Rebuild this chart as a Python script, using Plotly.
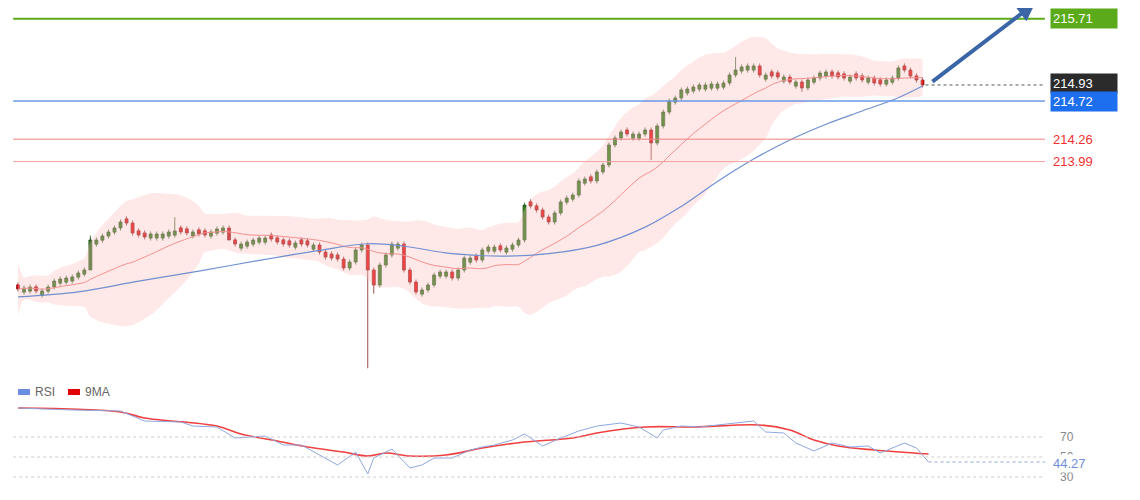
import numpy as np
import pandas as pd
import plotly.graph_objects as go

# closes read off the chart as screen rows, converted with the chart's own scale
# (214.72 at row 101, about 83 rows per point)
close_rows = [289, 288, 287, 291, 291, 287, 281, 279, 278, 277, 273, 270, 240, 240, 236, 232,
              228, 222, 223, 233, 235, 237, 234, 234, 234, 232, 231, 232, 233, 232, 234, 235,
              232, 229, 228, 240, 244, 244, 242, 240, 238, 238, 239, 242, 244, 245, 243, 244,
              245, 245, 252, 257, 258, 259, 268, 262, 250, 245, 270, 285, 265, 255, 244, 244,
              270, 282, 292, 290, 285, 275, 272, 272, 278, 270, 258, 258, 260, 250, 247, 247,
              250, 248, 245, 240, 205, 206, 210, 217, 222, 213, 202, 198, 195, 181, 179, 181,
              172, 165, 145, 138, 132, 134, 134, 134, 130, 143, 126, 112, 101, 98, 90, 89,
              87, 85, 85, 84, 84, 83, 75, 70, 67, 66, 66, 75, 75, 76, 77, 77,
              82, 82, 88, 80, 78, 73, 72, 76, 77, 78, 77, 78, 80, 78, 83, 84,
              80, 78, 68, 70, 76, 80, 85]
close = [round(214.72 + (101 - r) / 83, 3) for r in close_rows]
# long wicks seen on the chart: index -> (high, low)
wicks = {12: (None, 213.10), 26: (213.32, None), 35: (None, 213.17), 58: (None, 211.50),
         59: (None, 212.40), 105: (None, 214.01), 130: (None, 214.83), 119: (215.25, None)}

# slow moving average (blue)
slow_x = [0, 10, 20, 30, 40, 50, 58, 64, 72, 80, 88, 96, 104, 110, 116, 122, 128, 134, 140, 146, 150]
slow_v = [212.36, 212.42, 212.55, 212.67, 212.80, 212.92, 213.0, 212.97, 212.88, 212.85, 212.88,
          212.98, 213.20, 213.45, 213.75, 214.02, 214.25, 214.44, 214.60, 214.76, 214.90]

rsi_x = [0, 9, 17, 19, 21, 27, 29, 33, 36, 41, 44, 47, 50, 53, 56, 58, 59, 62, 65, 67,
         69, 72, 75, 77, 79, 82, 84, 87, 90, 93, 96, 100, 103, 106, 107, 110, 113, 116, 118, 122,
         124, 127, 129, 132, 135, 138, 141, 143, 147, 149, 151]
rsi_v = [99, 97, 96, 91, 86, 85, 81, 80, 69, 71, 62, 62, 52, 42, 55, 33, 49, 58, 39, 42,
         49, 49, 57, 60, 62, 67, 73, 61, 69, 76, 81, 84, 80, 69, 77, 81, 80, 82, 83, 86,
         75, 74, 64, 56, 64, 60, 61, 54, 64, 59, 45]
ma_x = [0, 17, 21, 33, 37, 43, 48, 54, 58, 61, 65, 71, 77, 84, 92, 96, 104, 112,
        123, 128, 132, 136, 142, 151]
ma_v = [99, 95, 89, 81, 73, 66, 60, 55, 51, 54, 51, 52, 59, 65, 69, 74, 80, 80,
        82, 77, 67, 61, 57, 53]

n = len(close)
idx = np.arange(n)
c = np.array(close)
o = np.array([close[0] + 0.03] + close[:-1])
# give flat candles a visible body
small = np.abs(c - o) < 0.05
o[small] = c[small] + np.where(c[small] >= o[small], -0.05, 0.05)
high = np.maximum(o, c) + 0.03
low = np.minimum(o, c) - 0.03
for k, (h, l) in wicks.items():
    if h is not None: high[k] = h
    if l is not None: low[k] = l

s = pd.Series(close)
ma20 = s.rolling(20, min_periods=1).mean()
sd = s.rolling(20, min_periods=2).std().fillna(0.1)
upper = ma20 + 2 * sd + 0.12
lower = ma20 - 2 * sd - 0.12

fig = go.Figure()
fig.add_trace(go.Scatter(x=idx, y=upper, mode="lines", line=dict(width=0, shape="spline"),
                         hoverinfo="skip"))
fig.add_trace(go.Scatter(x=idx, y=lower, mode="lines", line=dict(width=0, shape="spline"),
                         fill="tonexty", fillcolor="rgba(255,190,190,0.35)", hoverinfo="skip"))
fig.add_trace(go.Scatter(x=idx, y=ma20, mode="lines", line=dict(color="#f49090", width=1, shape="spline")))
fig.add_trace(go.Scatter(x=slow_x, y=slow_v, mode="lines", line=dict(color="#7090d0", width=1.2, shape="spline")))
fig.add_trace(go.Candlestick(x=idx, open=o, high=high, low=low, close=c,
                             increasing=dict(fillcolor="#23800f", line=dict(color="#2f5a25", width=0.8)),
                             decreasing=dict(fillcolor="#ee0000", line=dict(color="#8a2020", width=0.8)),
                             whiskerwidth=0))

# RSI panel
fig.add_trace(go.Scatter(x=ma_x, y=ma_v, yaxis="y2", mode="lines",
                         line=dict(color="#f04040", width=1.6, shape="spline")))
fig.add_trace(go.Scatter(x=rsi_x, y=rsi_v, yaxis="y2", mode="lines",
                         line=dict(color="#8fa8e0", width=1)))

# horizontal levels
X_END = 170.3
levels = [(215.71, "#5aaa1a", 2), (214.72, "#6b98e8", 1.5),
          (214.26, "#f08080", 1), (213.99, "#f4a0a0", 1)]
for val, col, w in levels:
    fig.add_shape(type="line", xref="x", yref="y", x0=-0.8, x1=X_END, y0=val, y1=val,
                  line=dict(color=col, width=w))
fig.add_shape(type="line", xref="x", yref="y", x0=n - 0.5, x1=X_END, y0=close[-1], y1=close[-1],
              line=dict(color="#555555", width=1, dash="dot"))
for lv in [70, 50, 30]:
    fig.add_shape(type="line", xref="x", yref="y2", x0=-0.8, x1=X_END, y0=lv, y1=lv,
                  line=dict(color="#cccccc", width=1, dash="dot"))
fig.add_shape(type="line", xref="x", yref="y2", x0=rsi_x[-1], x1=X_END, y0=45, y1=45,
              line=dict(color="#8fa8e0", width=1, dash="dot"))

def tag(val, text, bg, fg, yref="y"):
    fig.add_annotation(x=171.2, y=val, xref="x", yref=yref, text=text, showarrow=False,
                       xanchor="left", bgcolor=bg, font=dict(color=fg, size=13, family="Arial"),
                       width=62, borderpad=2, align="left")

tag(216.01, "", "#5aaa1a", "white")
tag(215.71, "215.71", "#5aaa1a", "white")
tag(214.93, "214.93", "#2b2b2b", "white")
tag(214.72, "214.72", "#1e6ef0", "white")
tag(214.26, "214.26", None, "#f03030")
tag(213.99, "213.99", None, "#f03030")
for lv, t in [(70, "70"), (50, "50"), (30, "30")]:
    fig.add_annotation(x=172.5, y=lv, xref="x", yref="y2", text=t, showarrow=False,
                       xanchor="left", font=dict(color="#888888", size=12))
fig.add_annotation(x=171.3, y=44, xref="x", yref="y2", text="44.27", showarrow=False,
                   xanchor="left", bgcolor="white", font=dict(color="#7090d8", size=13))

# trend arrow
fig.add_annotation(x=168.7, y=215.90, ax=151.4, ay=214.94, xref="x", yref="y", axref="x", ayref="y",
                   showarrow=True, arrowhead=2, arrowsize=0.9, arrowwidth=4, arrowcolor="#3a66a8", text="")

# legend (page pixels, page body has an 8px margin)
def px_x(p): return (p - 8) / 1140
def px_y(p): return 1 - (p - 8) / 500

for px, col, t in [(18, "#6b8ee0", "RSI"), (68, "#e00000", "9MA")]:
    fig.add_shape(type="rect", xref="paper", yref="paper", x0=px_x(px), x1=px_x(px + 12),
                  y0=px_y(395), y1=px_y(389), fillcolor=col, line=dict(width=0))
    fig.add_annotation(x=px_x(px + 15), y=px_y(392), xref="paper", yref="paper", text=t,
                       showarrow=False, xanchor="left", yanchor="middle",
                       font=dict(color="#666666", size=12))

fig.update_layout(
    width=1140, height=500, margin=dict(l=0, r=0, t=0, b=0),
    paper_bgcolor="white", plot_bgcolor="white", showlegend=False,
    font=dict(family="Arial"),
    xaxis=dict(range=[-10 / 6.03, 1130 / 6.03], visible=False, rangeslider=dict(visible=False)),
    yaxis=dict(range=[214.72 + (101 - 508) / 83, 214.72 + 93 / 83], visible=False),
    yaxis2=dict(range=[-1, 499], overlaying="y", visible=False),
)
fig.write_html("out.html")
